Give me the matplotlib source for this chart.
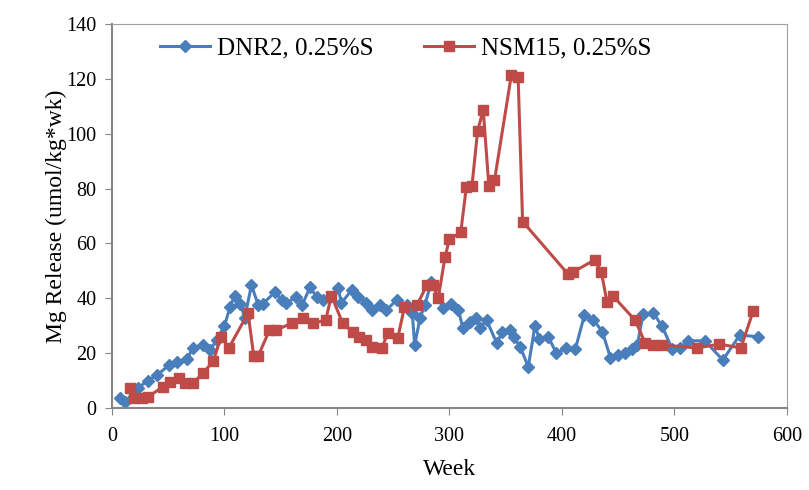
import matplotlib
matplotlib.use("Agg")
import matplotlib.pyplot as plt

plt.rcParams['font.family'] = ['Liberation Serif', 'DejaVu Serif']

# DNR2, 0.25%S
dnr2_week = [7, 11.5, 23, 32, 40, 51, 58, 67, 72, 81, 87, 93, 100, 105, 109, 114,
             118, 124, 130, 134, 145, 151, 155, 164, 169, 176, 182, 188, 194, 201,
             204, 213, 219, 226, 231, 238, 244, 253, 262, 267, 269, 274, 278, 284,
             294, 301, 308, 312, 318, 324, 327, 333, 342, 347, 354, 357, 363, 370,
             376, 380, 388, 395, 404, 412, 420, 428, 436, 443, 450, 456, 462, 467,
             472, 481, 489, 498, 505, 512, 527, 543, 558, 574]
dnr2_mg = [3.6, 2.2, 7.3, 10, 12, 15.7, 16.8, 18, 22, 23, 21, 24.8, 30, 36.8, 41, 38,
           33, 44.8, 37.5, 38, 42.3, 39.4, 38.3, 40.5, 37.5, 44, 40.5, 39.4, 40.5, 43.7,
           38.3, 43, 40.5, 38.3, 35.7, 37.5, 35.7, 39.4, 37.5, 34.6, 23, 33, 37.5, 46,
           36.5, 38, 35.7, 29, 31.4, 33, 29, 32, 23.7, 27.7, 28.4, 26, 22.2, 15,
           30, 25, 25.8, 20, 22, 21.7, 33.9, 32.2, 27.7, 18.4, 19.3, 20.2, 21.5, 23,
           34.2, 34.8, 29.8, 21.5, 22, 24.5, 24.5, 17.5, 26.6, 26]

# NSM15, 0.25%S
nsm15_week = [16, 20, 27, 32, 45, 52, 60, 65, 72, 81, 90, 97, 104, 121, 126, 130,
              140, 146, 160, 170, 179, 190, 195, 205, 214, 220, 226, 231, 240, 245,
              254, 260, 271, 280, 285, 290, 296, 300, 310, 315, 320, 325, 330, 335,
              340, 355, 361, 365, 405, 410, 429, 435, 440, 445, 465, 474, 481, 489,
              520, 540, 559, 570]
nsm15_mg = [7.3, 3.6, 3.6, 4, 7.7, 9.5, 11, 9, 9, 12.8, 17, 26, 22, 34.6, 19, 19,
            28.4, 28.4, 31, 33, 31, 32, 41, 31, 27.7, 26, 24.8, 22.4, 21.9, 27.3,
            25.5, 36.8, 37.5, 44.8, 44.8, 40, 55, 61.6, 64, 80.6, 81, 101, 108.6, 81,
            83, 121.4, 120.7, 68, 49, 49.6, 54, 49.6, 38.6, 41, 32, 23.7, 23, 23,
            21.9, 23.3, 21.9, 35.4]

fig = plt.figure(figsize=(8.09, 4.9), dpi=100)
ax = fig.add_axes([0.1384, 0.1673, 0.8344, 0.7837])

ax.plot(dnr2_week, dnr2_mg, color='#4a7ebb', marker='D', markersize=6.5, lw=2.2,
        label='DNR2, 0.25%S')
ax.plot(nsm15_week, nsm15_mg, color='#be4b48', marker='s', markersize=7.5, lw=2.2,
        label='NSM15, 0.25%S')

ax.set_xlim(0, 600)
ax.set_ylim(0, 140)
ax.set_xticks(range(0, 601, 100))
ax.set_yticks(range(0, 141, 20))
ax.tick_params(labelsize=14.5, direction='out', length=5, color='#868686')
ax.tick_params(axis='x', pad=9)
ax.tick_params(axis='y', pad=6)
for s in ax.spines.values():
    s.set_color('#a0a0a0')
ax.spines['left'].set_color('#868686')
ax.spines['bottom'].set_color('#868686')
ax.spines['left'].set_linewidth(1.5)
ax.spines['bottom'].set_linewidth(1.5)

ax.set_xlabel('Week', fontsize=17, labelpad=9)
ax.set_ylabel('Mg Release (umol/kg*wk)', fontsize=17)
ax.yaxis.set_label_coords(-0.066, 0.5)

ax.legend(loc='upper center', ncol=2, frameon=False, fontsize=18,
          bbox_to_anchor=(0.435, 1.025), handlelength=2.0, handletextpad=0.3,
          columnspacing=2.0)

fig.savefig('out.png', dpi=100)
